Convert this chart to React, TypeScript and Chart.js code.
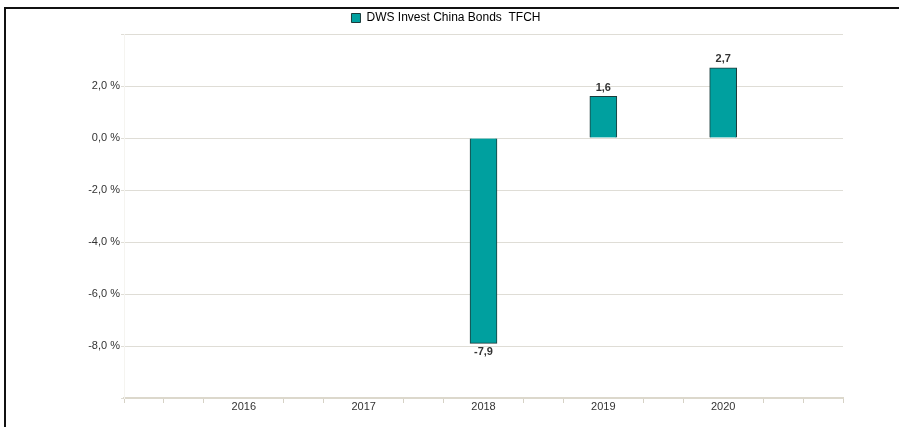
import React, { useEffect, useRef } from "react";
import { Chart, registerables } from "chart.js";

Chart.register(...registerables);

const seriesName = "DWS Invest China Bonds  TFCH";
const years = ["2016", "2017", "2018", "2019", "2020"];
const values: (number | null)[] = [null, null, -7.9, 1.6, 2.7];
const yTicks = [-10, -8, -6, -4, -2, 0, 2, 4];

const fmt = (v: number) => v.toFixed(1).replace(".", ",");

const FONT = "'Liberation Sans', Arial, sans-serif";

const framePlugin = {
  id: "frame",
  beforeDraw(chart: any) {
    const ctx = chart.ctx;
    ctx.save();
    ctx.fillStyle = "#ffffff";
    ctx.fillRect(0, 0, chart.width, chart.height);
    ctx.strokeStyle = "#111111";
    ctx.lineWidth = 2;
    ctx.beginPath();
    ctx.moveTo(4, 8);
    ctx.lineTo(chart.width, 8);
    ctx.moveTo(5, 7);
    ctx.lineTo(5, chart.height);
    ctx.stroke();
    ctx.restore();
  },
};

const valueLabelPlugin = {
  id: "valueLabels",
  afterDatasetsDraw(chart: any) {
    const ctx = chart.ctx;
    const meta = chart.getDatasetMeta(0);
    const data = chart.data.datasets[0].data as any[];
    ctx.save();
    ctx.font = "bold 11px " + FONT;
    ctx.fillStyle = "#333333";
    ctx.textAlign = "center";
    meta.data.forEach((bar: any, i: number) => {
      const d = data[i];
      if (!d || d.y === null || d.y === undefined) return;
      const v = d.y as number;
      if (v >= 0) {
        ctx.textBaseline = "bottom";
        ctx.fillText(fmt(v), bar.x, bar.y - 3);
      } else {
        ctx.textBaseline = "top";
        ctx.fillText(fmt(v), bar.x, bar.y + 3);
      }
    });
    ctx.restore();
  },
};

const isYearTick = (v: any) => {
  const n = Number(v);
  const r = Math.round(n);
  return Math.abs(n - r) < 1e-6 && years.includes(String(r));
};

export default function App() {
  const ref = useRef<HTMLCanvasElement | null>(null);

  useEffect(() => {
    if (!ref.current) return;
    const points = years.map((y, i) => ({ x: Number(y), y: values[i] }));
    const chart = new Chart(ref.current, {
      type: "bar",
      data: {
        datasets: [
          {
            label: seriesName,
            data: points as any,
            backgroundColor: "#00a09f",
            borderColor: "#1c3b3b",
            borderWidth: 1,
            barThickness: 27,
          },
        ],
      },
      options: {
        animation: false,
        responsive: false,
        layout: { padding: { top: 2, right: 7, left: 0, bottom: 0 } },
        plugins: {
          tooltip: { enabled: false },
          legend: {
            display: true,
            position: "top",
            labels: {
              boxWidth: 9,
              boxHeight: 9,
              padding: 10,
              color: "#1a1a1a",
              font: { family: FONT, size: 12 },
              generateLabels: () => [
                {
                  text: seriesName,
                  fillStyle: "#00a09f",
                  strokeStyle: "#1c3b3b",
                  lineWidth: 1,
                  hidden: false,
                  datasetIndex: 0,
                },
              ],
            },
          },
        },
        scales: {
          x: {
            type: "linear",
            min: 2015,
            max: 2021,
            offset: false,
            afterFit: (s: any) => {
              s.height = 29;
            },
            afterBuildTicks: (scale: any) => {
              const t: any[] = [];
              for (let i = 0; i <= 18; i++) t.push({ value: 2015 + i / 3 });
              scale.ticks = t;
            },
            ticks: {
              autoSkip: false,
              maxRotation: 0,
              padding: -3,
              color: "#333333",
              font: { family: FONT, size: 11 },
              callback: (v: any) => {
                const n = Number(v);
                return isYearTick(n) ? String(Math.round(n)) : "";
              },
            },
            grid: {
              offset: false,
              drawOnChartArea: false,
              drawTicks: true,
              tickLength: 5,
              lineWidth: 1,
              color: (c: any) => {
                const n = c.tick ? Number(c.tick.value) : 0;
                return isYearTick(n) ? "rgba(0,0,0,0)" : "#d6d2c6";
              },
            },
            border: { display: true, color: "#dcd8cc", width: 2 },
          },
          y: {
            type: "linear",
            position: "left",
            min: -10,
            max: 4,
            afterFit: (s: any) => {
              s.width = 124;
            },
            afterBuildTicks: (scale: any) => {
              scale.ticks = yTicks.map((v) => ({ value: v }));
            },
            ticks: {
              padding: 1,
              color: "#333333",
              font: { family: FONT, size: 11 },
              callback: (v: any) => {
                const n = Number(v);
                if (n === 4 || n === -10) return "";
                return fmt(n) + " %";
              },
            },
            grid: {
              color: "#dfddd6",
              lineWidth: 1,
              drawTicks: true,
              tickLength: 3,
            },
            border: { display: true, color: "#f5f4f0", width: 1 },
          },
          yRight: {
            type: "linear",
            position: "right",
            display: true,
            afterFit: (s: any) => {
              s.width = 49;
            },
            ticks: { display: false },
            grid: { display: false },
            border: { display: false },
          },
        },
      },
      plugins: [framePlugin, valueLabelPlugin],
    } as any);
    return () => chart.destroy();
  }, []);

  return (
    <div style={{ position: "absolute", left: 0, top: 0, width: 899, height: 427 }}>
      <canvas ref={ref} width={899} height={427} style={{ display: "block" }} />
    </div>
  );
}
